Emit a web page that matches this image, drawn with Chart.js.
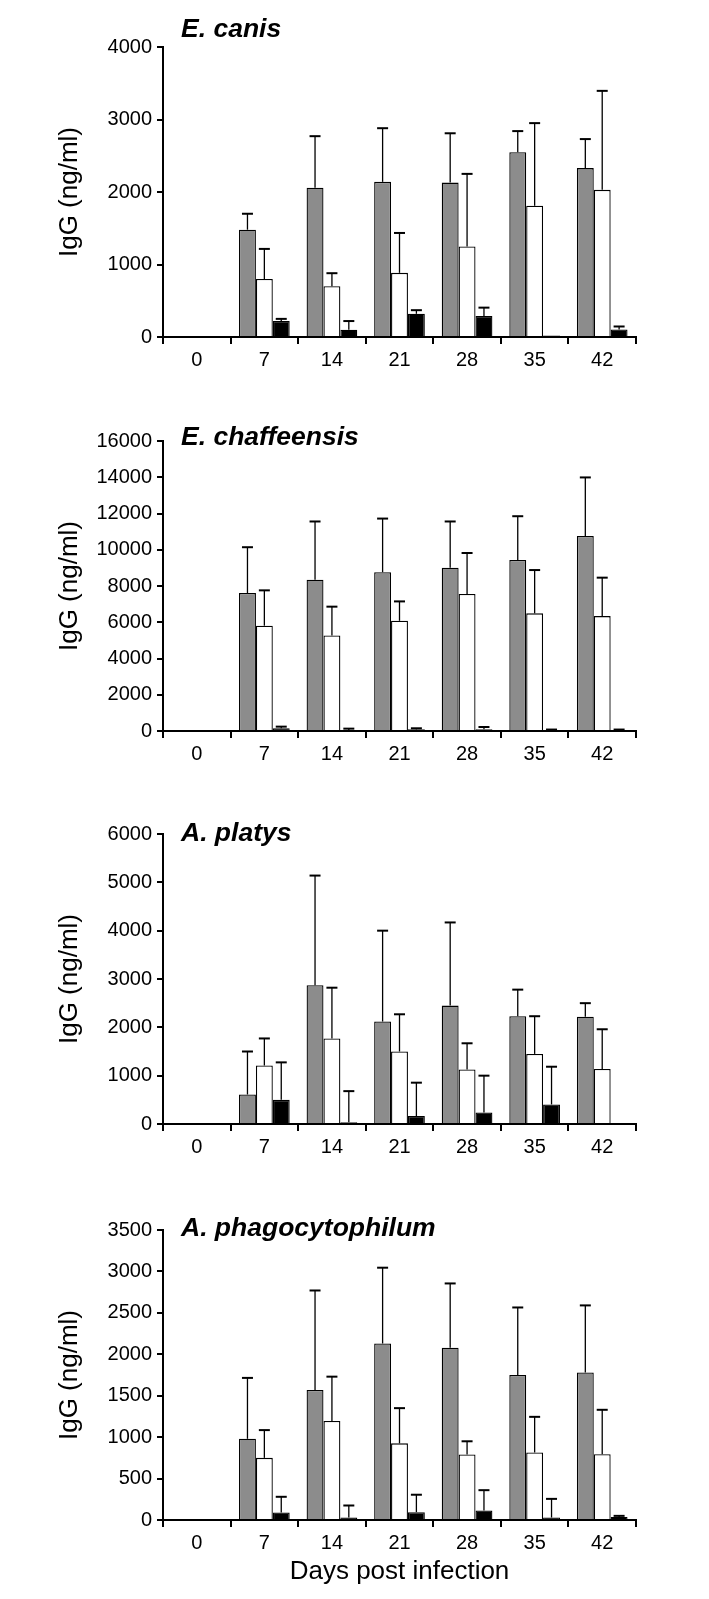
<!DOCTYPE html>
<html><head><meta charset="utf-8">
<script src="https://cdn.jsdelivr.net/npm/chart.js@4.4.1/dist/chart.umd.min.js"></script>
<style>
html,body{margin:0;padding:0;background:#fff;width:709px;height:1599px;overflow:hidden;position:relative;}
.panel{position:absolute;left:0;width:709px;}
.ttl{position:absolute;left:181px;font-family:"Liberation Sans",Arial,sans-serif;font-weight:bold;font-style:italic;font-size:26.5px;line-height:30px;color:#000;white-space:nowrap;}
</style></head><body>
<div class="panel" style="top:0px;height:395px"><canvas id="c1"></canvas></div>
<div class="panel" style="top:394px;height:395px"><canvas id="c2"></canvas></div>
<div class="panel" style="top:788px;height:395px"><canvas id="c3"></canvas></div>
<div class="panel" style="top:1183px;height:416px"><canvas id="c4"></canvas></div>
<div class="ttl" style="top:13px">E. canis</div>
<div class="ttl" style="top:421px">E. chaffeensis</div>
<div class="ttl" style="top:817px">A. platys</div>
<div class="ttl" style="top:1212px">A. phagocytophilum</div>
<script>
const days = ['0','7','14','21','28','35','42'];
const yTitle = 'IgG (ng/ml)';
const xTitle = 'Days post infection';

// E. canis
const canisGrey   = [0, 1480, 2060, 2140, 2130, 2550, 2330];
const canisGreySD = [0, 220, 710, 740, 680, 290, 400];
const canisWhite  = [0, 800, 700, 885, 1250, 1810, 2030];
const canisWhiteSD= [0, 415, 180, 550, 1000, 1140, 1365];
const canisBlack  = [0, 220, 100, 320, 290, 20, 105];
const canisBlackSD= [0, 30, 120, 50, 115, 0, 40];

// E. chaffeensis
const chafGrey   = [0, 7610, 8350, 8760, 9010, 9440, 10760];
const chafGreySD = [0, 2530, 3210, 2960, 2550, 2410, 3230];
const chafWhite  = [0, 5810, 5270, 6080, 7560, 6490, 6340];
const chafWhiteSD= [0, 1950, 1590, 1070, 2260, 2390, 2120];
const chafBlack  = [0, 150, 60, 90, 90, 60, 60];
const chafBlackSD= [0, 90, 70, 60, 130, 20, 20];

// A. platys
const platGrey   = [0, 610, 2870, 2120, 2450, 2230, 2220];
const platGreySD = [0, 890, 2270, 1880, 1720, 550, 280];
const platWhite  = [0, 1210, 1770, 1500, 1130, 1450, 1140];
const platWhiteSD= [0, 560, 1050, 770, 540, 780, 820];
const platBlack  = [0, 500, 35, 165, 240, 405, 0];
const platBlackSD= [0, 775, 645, 690, 760, 780, 0];

// A. phagocytophilum
const phagGrey   = [0, 980, 1570, 2130, 2080, 1750, 1780];
const phagGreySD = [0, 735, 1200, 915, 775, 815, 810];
const phagWhite  = [0, 750, 1195, 925, 790, 815, 795];
const phagWhiteSD= [0, 335, 535, 425, 160, 430, 535];
const phagBlack  = [0, 90, 30, 95, 115, 30, 35];
const phagBlackSD= [0, 190, 145, 210, 245, 225, 15];

const yMax  = [4000, 16000, 6000, 3500];
const yStep = [1000, 2000, 1000, 500];

const FONT = '"Liberation Sans", Arial, Helvetica, sans-serif';

const errorBars = {
  id: 'errorBars',
  afterDatasetsDraw(chart) {
    const ctx = chart.ctx, ys = chart.scales.y;
    chart.data.datasets.forEach((ds, i) => {
      const meta = chart.getDatasetMeta(i);
      meta.data.forEach((bar, j) => {
        const sd = ds.sd[j];
        if (!sd) return;
        const yTop = ys.getPixelForValue(ds.data[j] + sd);
        ctx.save();
        ctx.strokeStyle = '#000';
        ctx.lineWidth = 1.3;
        ctx.beginPath(); ctx.moveTo(bar.x, bar.y); ctx.lineTo(bar.x, yTop); ctx.stroke();
        ctx.lineWidth = 2;
        ctx.beginPath(); ctx.moveTo(bar.x - 5.5, yTop); ctx.lineTo(bar.x + 5.5, yTop); ctx.stroke();
        ctx.restore();
      });
    });
  }
};

function makeChart(id, h, topPad, idx, g, gsd, w, wsd, b, bsd, last) {
  const cv = document.getElementById(id);
  cv.width = 709; cv.height = h;
  cv.style.width = '709px'; cv.style.height = h + 'px';
  const mk = (label, data, sd, color) => ({
    label, data, sd, backgroundColor: color, borderColor: '#000', borderWidth: 1.3,
    categoryPercentage: 0.75, barPercentage: 1.0
  });
  return new Chart(cv, {
    type: 'bar',
    data: {
      labels: days,
      datasets: [
        mk('grey', g, gsd, '#8c8c8c'),
        mk('white', w, wsd, '#ffffff'),
        mk('black', b, bsd, '#000000')
      ]
    },
    options: {
      responsive: false, animation: false, devicePixelRatio: 1,
      layout: { padding: { top: topPad, right: 73, left: 0, bottom: 0 } },
      plugins: { legend: { display: false }, tooltip: { enabled: false }, title: { display: false } },
      scales: {
        x: {
          type: 'category', offset: true,
          grid: { offset: true, drawOnChartArea: false, drawTicks: true, tickLength: 7, color: '#000', lineWidth: 2 },
          border: { display: true, color: '#000', width: 2 },
          ticks: { color: '#000', font: { family: FONT, size: 20 }, padding: 4, maxRotation: 0, autoSkip: false },
          title: { display: last, text: xTitle, color: '#000', font: { family: FONT, size: 26 }, padding: { top: 0, bottom: 12 } },
          afterFit(s) { s.height = h - topPad - 290; }
        },
        y: {
          min: 0, max: yMax[idx],
          grid: { drawOnChartArea: false, drawTicks: true, tickLength: 6, color: '#000', lineWidth: 2 },
          border: { display: true, color: '#000', width: 2 },
          ticks: { stepSize: yStep[idx], color: '#000', font: { family: FONT, size: 20 }, padding: 5,
                   callback: (v) => String(v) },
          title: { display: true, text: yTitle, color: '#000', font: { family: FONT, size: 26 }, padding: { top: 54, bottom: 0 } },
          afterFit(s) { s.width = 163; }
        }
      }
    },
    plugins: [errorBars]
  });
}

makeChart('c1', 395, 47, 0, canisGrey, canisGreySD, canisWhite, canisWhiteSD, canisBlack, canisBlackSD, false);
makeChart('c2', 395, 47, 1, chafGrey, chafGreySD, chafWhite, chafWhiteSD, chafBlack, chafBlackSD, false);
makeChart('c3', 395, 46, 2, platGrey, platGreySD, platWhite, platWhiteSD, platBlack, platBlackSD, false);
makeChart('c4', 416, 47, 3, phagGrey, phagGreySD, phagWhite, phagWhiteSD, phagBlack, phagBlackSD, true);
</script>
</body></html>
